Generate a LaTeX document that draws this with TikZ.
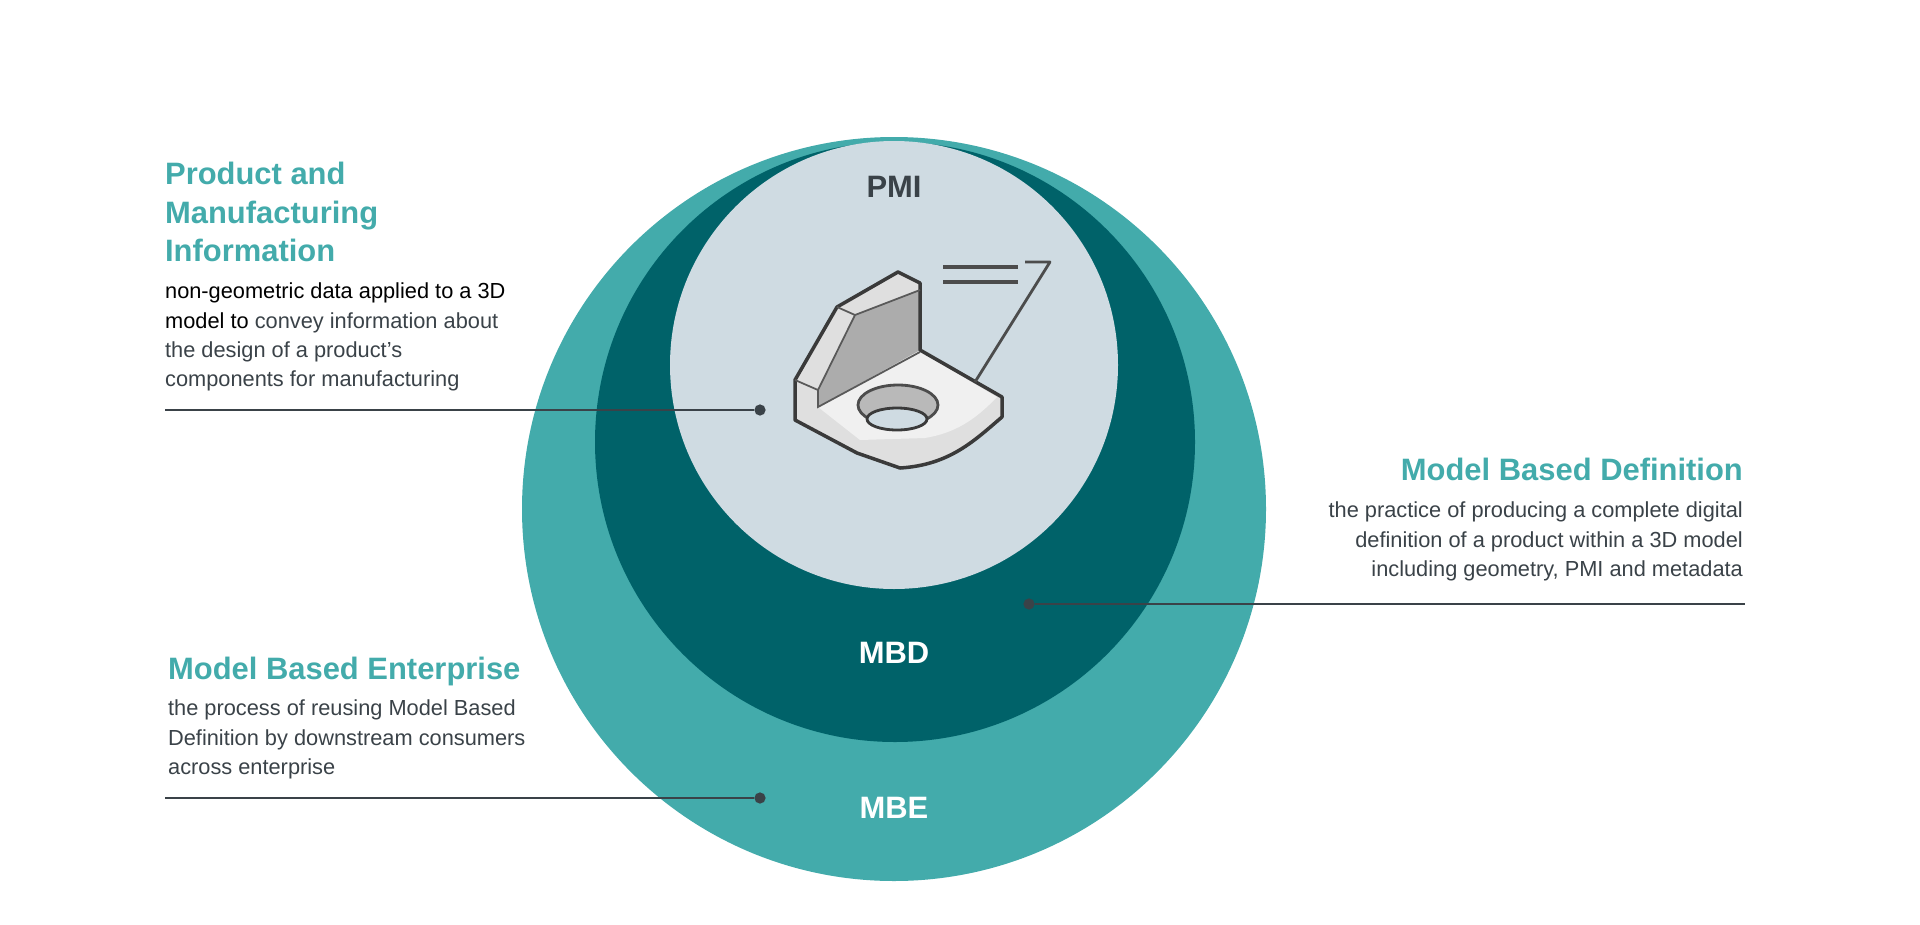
\documentclass[tikz,border=0pt]{standalone}
\usepackage{fontspec}
\setmainfont{Liberation Sans}
\definecolor{mbecol}{HTML}{43ABAB}
\definecolor{mbdcol}{HTML}{006269}
\definecolor{pmicol}{HTML}{CFDBE2}
\definecolor{txtcol}{HTML}{3A4248}
\definecolor{partcol}{HTML}{3A3A3A}
\tikzset{
  ring label/.style={font=\fontsize{44}{44}\selectfont\bfseries},
  head/.style={text=mbecol, font=\fontsize{44}{55}\selectfont\bfseries, inner sep=0pt},
  body/.style={text=txtcol, font=\fontsize{31}{41.5}\selectfont, inner sep=0pt},
  leader/.style={draw=txtcol, line width=1.6pt},
  pin/.style={circle, fill=txtcol, inner sep=0pt, minimum size=16pt},
  part/.style={draw=partcol, line width=5pt, line join=round},
}
\begin{document}
\begin{tikzpicture}[x=0.05cm, y=-0.05cm]
\useasboundingbox (0,0) rectangle (1920,924);
% circles
\fill[mbecol] (894,509) circle (372);
\fill[mbdcol] (895,442) circle (300);
\fill[pmicol] (894,365) circle (224);
\node[ring label, text=txtcol] (pmi) at (894,187) {PMI};
\node[ring label, text=white] (mbd) at (894,653) {MBD};
\node[ring label, text=white] (mbe) at (894,808) {MBE};

% bracket icon
\fill[gray!25] (898,272) -- (920,283) -- (920,350) -- (1002,397) -- (1002,417)
  .. controls (975,440) and (950,465) .. (900,468) -- (857,453) -- (795,420) -- (795,380) -- (837,307) -- cycle;
\fill[gray!65] (855,315) -- (920,290) -- (920,350) -- (818,407) -- (818,390) -- cycle;
\fill[gray!12] (818,407) -- (920,352) -- (997,397) .. controls (975,420) and (955,433) .. (925,438) -- (860,440) -- cycle;
\draw[part] (898,272) -- (920,283) -- (920,350) -- (1002,397) -- (1002,417)
  .. controls (975,440) and (950,465) .. (900,468) -- (857,453) -- (795,420) -- (795,380) -- (837,307) -- cycle;
\draw[gray!70!black, line width=2.5pt] (837,307) -- (855,315) -- (920,290) (855,315) -- (818,390) -- (795,380) (818,390) -- (818,407) -- (920,352);
\fill[gray!55] (898,405) ellipse (40 and 20);
\draw[gray!60!black, line width=4pt] (898,405) ellipse (40 and 20);
\fill[pmicol] (897,419) ellipse (30 and 11);
\draw[partcol, line width=4pt] (897,419) ellipse (30 and 11);
\draw[gray!60!black, line width=7pt] (943,267) -- (1018,267) (943,282) -- (1018,282);
\draw[gray!60!black, line width=4pt, line join=round] (1025,262) -- (1050,262) -- (975,382);

% Product and Manufacturing Information
\node[head, anchor=north west, align=left] (pmihead) at (165,162) {Product and\\Manufacturing\\Information};
\node[body, anchor=north west, align=left] (pmibody) at (165,283)
  {\textcolor{black}{non-geometric data applied to a 3D}\\\textcolor{black}{model to} convey information about\\the design of a product’s\\components for manufacturing};
\node[pin] (pmipin) at (760,410) {};
\coordinate (pmiend) at (165,410);
\draw[leader] (pmiend) -- (pmipin);

% Model Based Definition
\node[head, anchor=north east, align=right] (mbdhead) at (1743,458) {Model Based Definition};
\node[body, anchor=north east, align=right] (mbdbody) at (1743,502)
  {the practice of producing a complete digital\\definition of a product within a 3D model\\including geometry, PMI and metadata};
\node[pin] (mbdpin) at (1029,604) {};
\coordinate (mbdend) at (1745,604);
\draw[leader] (mbdpin) -- (mbdend);

% Model Based Enterprise
\node[head, anchor=north west, align=left] (mbehead) at (168,657) {Model Based Enterprise};
\node[body, anchor=north west, align=left] (mbebody) at (168,700)
  {the process of reusing Model Based\\Definition by downstream consumers\\across enterprise};
\node[pin] (mbepin) at (760,798) {};
\coordinate (mbeend) at (165,798);
\draw[leader] (mbeend) -- (mbepin);
\end{tikzpicture}
\end{document}
